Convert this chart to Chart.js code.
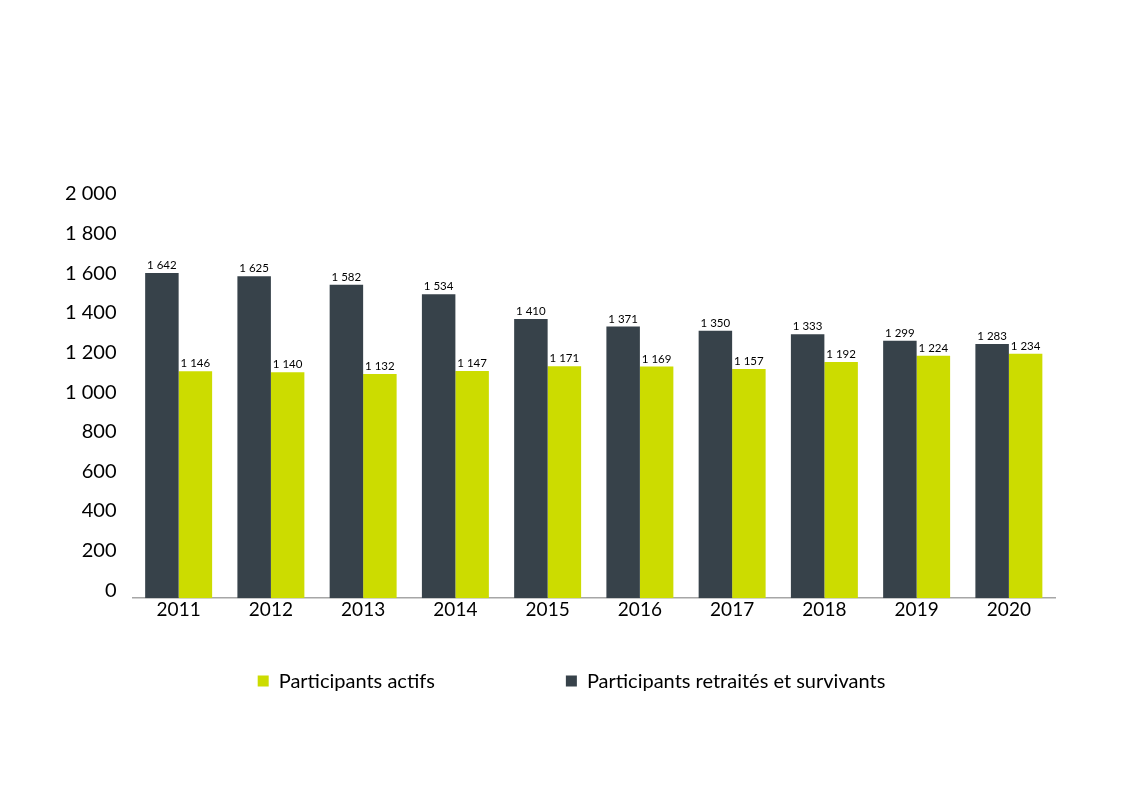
<!DOCTYPE html>
<html>
<head>
<meta charset="utf-8">
<script src="https://cdn.jsdelivr.net/npm/chart.js@4"></script>
<style>
  html, body { margin: 0; padding: 0; background: #fff; }
  #wrap { width: 1141px; height: 801px; position: relative; }
</style>
</head>
<body>
<div id="wrap"><canvas id="c" width="1141" height="801"></canvas></div>
<script>
const categories = ['2011','2012','2013','2014','2015','2016','2017','2018','2019','2020'];
const retiredLabel = 'Participants retraités et survivants';
const activeLabel = 'Participants actifs';
const retiredValues = [1642, 1625, 1582, 1534, 1410, 1371, 1350, 1333, 1299, 1283];
const activeValues = [1146, 1140, 1132, 1147, 1171, 1169, 1157, 1192, 1224, 1234];
const yTicks = [0, 200, 400, 600, 800, 1000, 1200, 1400, 1600, 1800, 2000];

const darkColor = '#37424a';
const greenColor = '#ccdc00';
const FONT = 'Lato, "Open Sans", sans-serif';

function fmt(v) {
  return String(v).replace(/\B(?=(\d{3})+(?!\d))/g, ' ');
}

const valueLabels = {
  id: 'valueLabels',
  afterDatasetsDraw(chart) {
    const ctx = chart.ctx;
    ctx.save();
    ctx.font = '11.5px ' + FONT;
    ctx.fillStyle = '#000';
    ctx.textAlign = 'center';
    ctx.textBaseline = 'bottom';
    chart.data.datasets.forEach((ds, i) => {
      const meta = chart.getDatasetMeta(i);
      meta.data.forEach((bar, j) => {
        ctx.fillText(fmt(ds.data[j]), bar.x, bar.y - 2);
      });
    });
    ctx.restore();
  }
};

const customLegend = {
  id: 'customLegend',
  afterDraw(chart) {
    const ctx = chart.ctx;
    ctx.save();
    ctx.font = '20px ' + FONT;
    ctx.textBaseline = 'middle';
    ctx.textAlign = 'left';
    const items = chart.data.datasets.slice().reverse();
    const box = 11, gapText = 10, gapItem = 131;
    const widths = items.map(ds => box + gapText + ctx.measureText(ds.label).width);
    const total = widths.reduce((a, b) => a + b, 0) + gapItem * (items.length - 1);
    const cx = chart.width / 2 + 1;
    let x = cx - total / 2;
    const y = 681;
    items.forEach((ds, i) => {
      ctx.fillStyle = ds.backgroundColor;
      ctx.fillRect(x, y - box / 2, box, box);
      ctx.fillStyle = '#000';
      ctx.fillText(ds.label, x + box + gapText, y + 1);
      x += widths[i] + gapItem;
    });
    ctx.restore();
  }
};

new Chart(document.getElementById('c'), {
  type: 'bar',
  data: {
    labels: categories,
    datasets: [
      { label: retiredLabel, data: retiredValues, backgroundColor: darkColor, borderWidth: 0 },
      { label: activeLabel, data: activeValues, backgroundColor: greenColor, borderWidth: 0 }
    ]
  },
  options: {
    responsive: false,
    animation: false,
    devicePixelRatio: 1,
    layout: { padding: { left: 49, right: 86, top: 202, bottom: 180 } },
    datasets: { bar: { categoryPercentage: 0.726, barPercentage: 1.0 } },
    plugins: {
      legend: { display: false },
      tooltip: { enabled: false }
    },
    scales: {
      x: {
        grid: { display: false, drawTicks: false },
        border: { display: true, color: '#a6a6a6', width: 1.5 },
        ticks: { color: '#000', font: { family: FONT, size: 19 }, padding: 0, maxRotation: 0 }
      },
      y: {
        min: 0,
        max: 2000,
        grid: { display: false, drawTicks: false },
        border: { display: false },
        afterBuildTicks(scale) { scale.ticks = yTicks.map(v => ({ value: v })); },
        ticks: {
          color: '#000',
          font: { family: FONT, size: 20 },
          padding: 16,
          labelOffset: -8,
          callback: v => fmt(v)
        }
      }
    }
  },
  plugins: [valueLabels, customLegend]
});
</script>
</body>
</html>
